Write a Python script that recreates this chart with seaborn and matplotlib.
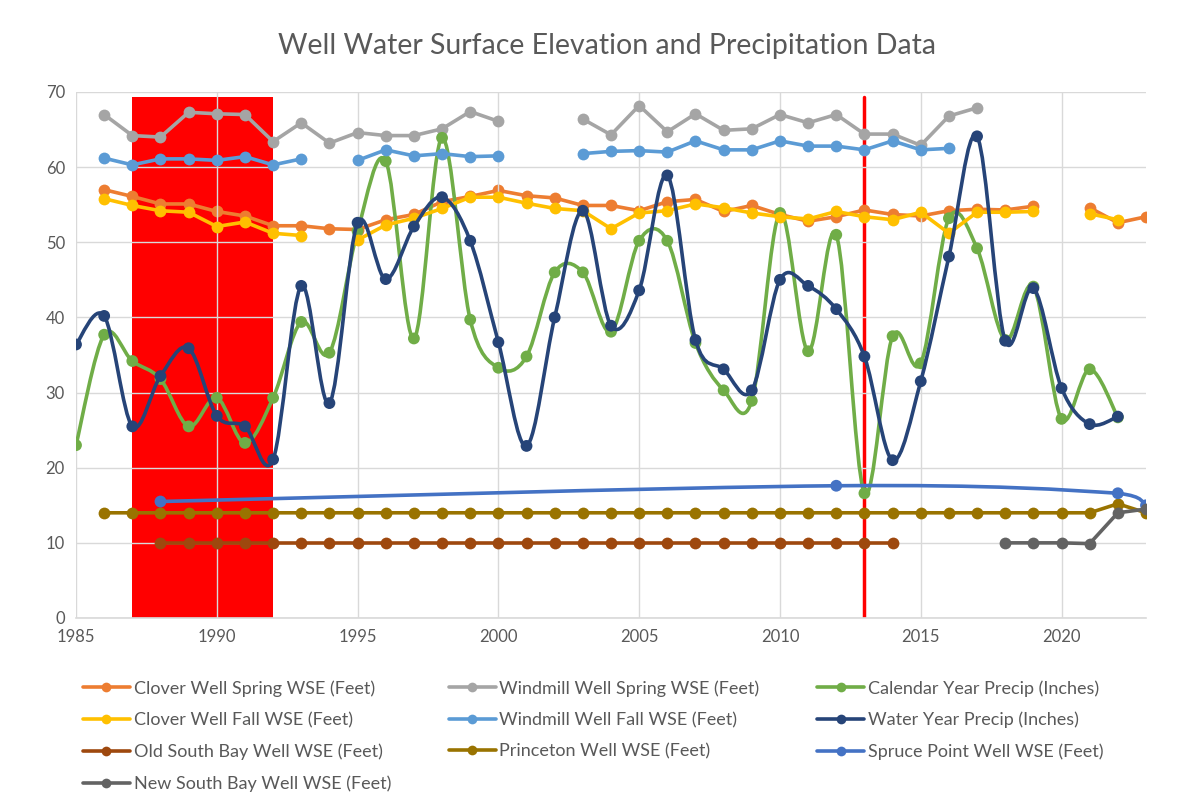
import numpy as np
import pandas as pd
import matplotlib
matplotlib.use('Agg')
import matplotlib.pyplot as plt
from matplotlib.path import Path
from matplotlib.patches import PathPatch, Rectangle
from matplotlib.lines import Line2D
import seaborn as sns

# ---- data ----
years = list(range(1985, 2024))
N = None

clover_spring = [N, 57.0, 56.1, 55.1, 55.1, 54.1, 53.5, 52.2, 52.2, 51.8,
                 51.7, 53.0, 53.7, 55.4, 56.1, 56.9, 56.2, 55.9, 54.9, 54.9,
                 54.2, 55.4, 55.7, 54.1, 54.9, 53.7, 52.8, 53.4, 54.3, 53.7,
                 53.5, 54.2, 54.4, 54.3, 54.8, N, 54.6, 52.6, 53.4]
clover_fall = [N, 55.8, 54.9, 54.2, 54.0, 52.1, 52.7, 51.2, 50.9, N,
               50.3, 52.3, 53.2, 54.5, 56.0, 56.0, 55.2, 54.5, 54.2, 51.8,
               53.9, 54.2, 55.1, 54.6, 53.9, 53.4, 53.1, 54.1, 53.4, 53.0,
               54.0, 51.2, 54.0, 54.0, 54.1, N, 53.8, 53.0, N]
windmill_spring = [N, 67.0, 64.2, 64.0, 67.3, 67.1, 67.0, 63.4, 65.9, 63.2,
                   64.6, 64.2, 64.2, 65.1, 67.4, 66.1, N, N, 66.4, 64.3,
                   68.2, 64.7, 67.1, 64.9, 65.1, 67.0, 65.9, 67.0, 64.4, 64.4,
                   62.9, 66.8, 67.9, N, N, N, N, N, N]
windmill_fall = [N, 61.2, 60.3, 61.1, 61.1, 60.9, 61.4, 60.3, 61.1, N,
                 60.9, 62.3, 61.5, 61.8, 61.4, 61.5, N, N, 61.8, 62.1,
                 62.2, 62.0, 63.5, 62.3, 62.3, 63.5, 62.8, 62.8, 62.3, 63.5,
                 62.3, 62.5, N, N, N, N, N, N, N]
calendar_precip = [23.0, 37.7, 34.2, 31.8, 25.5, 29.3, 23.3, 29.3, 39.4, 35.3,
                   51.5, 60.8, 37.2, 63.9, 39.7, 33.3, 34.8, 46.0, 46.0, 38.1,
                   50.2, 50.2, 36.6, 30.3, 28.9, 53.9, 35.5, 51.0, 16.6, 37.5,
                   33.9, 53.2, 49.2, 37.0, 44.1, 26.5, 33.1, 26.7, N]
water_year_precip = [36.4, 40.2, 25.5, 32.2, 35.9, 26.9, 25.5, 21.1, 44.2, 28.6,
                     52.6, 45.1, 52.1, 56.0, 50.2, 36.7, 22.9, 40.0, 54.2, 38.9,
                     43.6, 58.9, 37.0, 33.1, 30.3, 45.0, 44.2, 41.1, 34.8, 21.0,
                     31.5, 48.1, 64.1, 36.9, 43.9, 30.6, 25.8, 26.8, N]
old_south_bay = [N, N, N, 10.0, 10.0, 10.0, 10.0, 10.0, 10.0, 10.0,
                 10.0, 10.0, 10.0, 10.0, 10.0, 10.0, 10.0, 10.0, 10.0, 10.0,
                 10.0, 10.0, 10.0, 10.0, 10.0, 10.0, 10.0, 10.0, 10.0, 10.0,
                 N, N, N, N, N, N, N, N, N]
princeton = [N, 14.0, 14.0, 14.0, 14.0, 14.0, 14.0, 14.0, 14.0, 14.0,
             14.0, 14.0, 14.0, 14.0, 14.0, 14.0, 14.0, 14.0, 14.0, 14.0,
             14.0, 14.0, 14.0, 14.0, 14.0, 14.0, 14.0, 14.0, 14.0, 14.0,
             14.0, 14.0, 14.0, 14.0, 14.0, 14.0, 14.0, 15.2, 14.0]
spruce_years = [1988, 2012, 2022, 2023]
spruce_point = [15.5, 17.6, 16.6, 15.0]
new_south_bay = [N, N, N, N, N, N, N, N, N, N,
                 N, N, N, N, N, N, N, N, N, N,
                 N, N, N, N, N, N, N, N, N, N,
                 N, N, N, 10.0, 10.0, 10.0, 9.9, 14.0, 14.5]

drought_start, drought_end = 1987, 1992
marker_year = 2013

colors = {
    'Clover Well Spring WSE (Feet)': '#ED7D31',
    'Windmill Well Spring WSE (Feet)': '#A5A5A5',
    'Calendar Year Precip (Inches)': '#70AD47',
    'Clover Well Fall WSE (Feet)': '#FFC000',
    'Windmill Well Fall WSE (Feet)': '#5B9BD5',
    'Water Year Precip (Inches)': '#264478',
    'Old South Bay Well WSE (Feet)': '#9E480E',
    'Princeton Well WSE (Feet)': '#997300',
    'Spruce Point Well WSE (Feet)': '#4472C4',
    'New South Bay Well WSE (Feet)': '#636363',
}

sns.set_style('white')
plt.rcParams['font.family'] = ['Lato', 'DejaVu Sans']

fig = plt.figure(figsize=(11.95, 7.94), dpi=100)
ax = fig.add_axes([76 / 1195, 1 - 618 / 794, (1146 - 76) / 1195, (618 - 92) / 794])

LW = 2.6
MS = 8.5


def straight(vals, label, z):
    # draw a series, breaking the line where values are missing
    df = pd.DataFrame({'year': years, 'val': vals})
    df['run'] = df['val'].isna().cumsum()
    df = df.dropna()
    for _, part in df.groupby('run'):
        sns.lineplot(data=part, x='year', y='val', ax=ax, color=colors[label],
                     lw=LW, marker='o', markersize=MS, markeredgewidth=0,
                     errorbar=None, zorder=z)


def smooth(xs, vals, label, z, lw=LW, ms=MS):
    # excel style smoothed line: cubic bezier segments through the points
    pts = [(x, v) for x, v in zip(xs, vals) if v is not None]
    n = len(pts)
    verts = [pts[0]]
    codes = [Path.MOVETO]
    for i in range(n - 1):
        p0 = pts[i - 1] if i > 0 else pts[i]
        p1, p2 = pts[i], pts[i + 1]
        p3 = pts[i + 2] if i + 2 < n else pts[i + 1]
        c1 = [p1[0] + (p2[0] - p0[0]) / 6, p1[1] + (p2[1] - p0[1]) / 6]
        c2 = [p2[0] - (p3[0] - p1[0]) / 6, p2[1] - (p3[1] - p1[1]) / 6]
        c1[0] = min(c1[0], p2[0])
        c2[0] = max(c2[0], p1[0])
        verts += [tuple(c1), tuple(c2), p2]
        codes += [Path.CURVE4] * 3
    ax.add_patch(PathPatch(Path(verts, codes), fill=False, edgecolor=colors[label],
                           lw=lw, zorder=z, capstyle='round', joinstyle='round'))
    px = [p[0] for p in pts]
    py = [p[1] for p in pts]
    sns.scatterplot(x=px, y=py, ax=ax, color=colors[label], s=ms ** 2,
                    edgecolor='none', zorder=z + 0.01, legend=False)


# drought block and 2013 marker line
ax.add_patch(Rectangle((drought_start, 0), drought_end - drought_start, 69.3,
                       facecolor='#FF0000', edgecolor='none', zorder=0.5))
ax.plot([marker_year, marker_year], [0, 69.3], color='#FF0000', lw=2.5, zorder=1.5)

straight(clover_spring, 'Clover Well Spring WSE (Feet)', 2)
straight(windmill_spring, 'Windmill Well Spring WSE (Feet)', 3)
smooth(years, calendar_precip, 'Calendar Year Precip (Inches)', 4)
straight(clover_fall, 'Clover Well Fall WSE (Feet)', 5)
straight(windmill_fall, 'Windmill Well Fall WSE (Feet)', 6)
smooth(years, water_year_precip, 'Water Year Precip (Inches)', 7)
straight(old_south_bay, 'Old South Bay Well WSE (Feet)', 8)
straight(princeton, 'Princeton Well WSE (Feet)', 9)
smooth(spruce_years, spruce_point, 'Spruce Point Well WSE (Feet)', 10)
straight(new_south_bay, 'New South Bay Well WSE (Feet)', 11)

ax.set_xlim(1985, 2023)
ax.set_ylim(0, 70)
ax.set_xticks(range(1985, 2021, 5))
ax.set_yticks(range(0, 71, 10))
ax.grid(True, color='#D9D9D9', lw=1)
ax.set_axisbelow(False)
for gl in ax.get_xgridlines() + ax.get_ygridlines():
    gl.set_zorder(1)
ax.tick_params(length=0, labelsize=12, labelcolor='#595959', pad=8)
ax.set_xlabel('')
ax.set_ylabel('')
for s in ['top', 'right', 'left']:
    ax.spines[s].set_visible(False)
ax.spines['bottom'].set_color('#D9D9D9')
ax.spines['bottom'].set_linewidth(1.2)

fig.suptitle('Well Water Surface Elevation and Precipitation Data',
             x=0.508, y=0.958, fontsize=20.5, color='#595959')

# legend, laid out row-wise like the original
order = ['Clover Well Spring WSE (Feet)', 'Clover Well Fall WSE (Feet)',
         'Old South Bay Well WSE (Feet)', 'New South Bay Well WSE (Feet)',
         'Windmill Well Spring WSE (Feet)', 'Windmill Well Fall WSE (Feet)',
         'Princeton Well WSE (Feet)',
         'Calendar Year Precip (Inches)', 'Water Year Precip (Inches)',
         'Spruce Point Well WSE (Feet)']
handles = [Line2D([0], [0], color=colors[k], lw=LW, marker='o', markersize=7,
                  markeredgewidth=0) for k in order]
fig.legend(handles, order, ncol=3, loc='upper left',
           bbox_to_anchor=(83 / 1195, 1 - 680 / 794), frameon=False,
           fontsize=13, labelcolor='#595959', handlelength=2.6,
           handletextpad=0.2, columnspacing=3.2, labelspacing=0.85,
           borderaxespad=0, borderpad=0)

fig.savefig('out.png', dpi=100, facecolor='white')
